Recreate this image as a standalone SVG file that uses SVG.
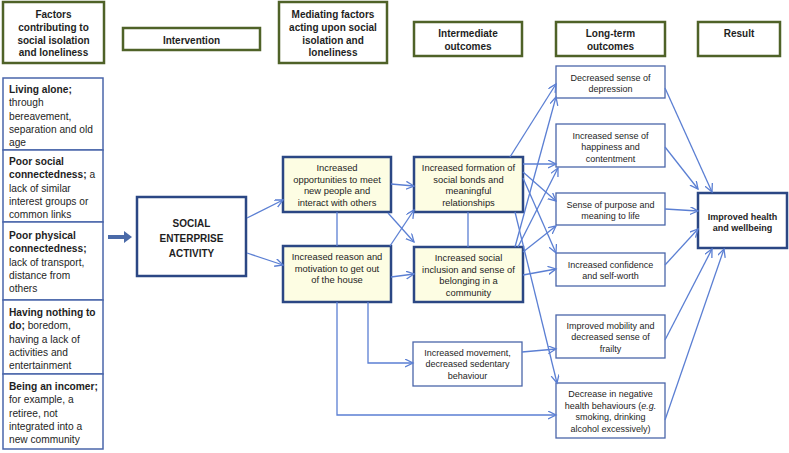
<svg xmlns="http://www.w3.org/2000/svg" width="789" height="453" viewBox="0 0 789 453">
<style>
text{font-family:"Liberation Sans",Arial,sans-serif;fill:#1e1e1e}
.hdr{fill:#fff;stroke:#4f6228;stroke-width:2.5}
.ht{font-size:10px;font-weight:bold;text-anchor:middle}
.lbox{fill:#fff;stroke:#4a66aa;stroke-width:1.5}
.lt{font-size:10.2px}
.b{font-weight:bold}
.thick{fill:#fff;stroke:#2b4784;stroke-width:2.5}
.med{fill:#fdfde3;stroke:#2b4784;stroke-width:2.5}
.thin{fill:#fff;stroke:#4a66aa;stroke-width:1.3}
.t9{font-size:9px;text-anchor:middle}
.t95{font-size:9.4px;text-anchor:middle}
.conn path{fill:none;stroke:#5b7fd3;stroke-width:1.3}
.conn .a{marker-end:url(#ah)}
</style>
<defs>
<marker id="ah" markerWidth="10" markerHeight="10" refX="8" refY="4" orient="auto" markerUnits="userSpaceOnUse">
<path d="M0,0 L8,4 L0,8" fill="none" stroke="#5b7fd3" stroke-width="1.3"/>
</marker>
</defs>
<rect width="789" height="453" fill="#fff"/>

<g id="h-factors"><rect class="hdr" x="3" y="2" width="101" height="61"/>
<text class="ht" x="53.5" y="18">Factors</text><text class="ht" x="53.5" y="31">contributing to</text><text class="ht" x="53.5" y="43.5">social isolation</text><text class="ht" x="53.5" y="56">and loneliness</text></g>
<g id="h-intervention"><rect class="hdr" x="123" y="28" width="137" height="22"/><text class="ht" x="191.5" y="43.5">Intervention</text></g>
<g id="h-mediating"><rect class="hdr" x="279" y="2" width="108" height="61"/>
<text class="ht" x="333" y="18">Mediating factors</text><text class="ht" x="333" y="31">acting upon social</text><text class="ht" x="333" y="43.5">isolation and</text><text class="ht" x="333" y="56">loneliness</text></g>
<g id="h-intermediate"><rect class="hdr" x="414" y="22" width="108" height="34"/><text class="ht" x="468" y="36.5">Intermediate</text><text class="ht" x="468" y="49.5">outcomes</text></g>
<g id="h-longterm"><rect class="hdr" x="556" y="22" width="109" height="34"/><text class="ht" x="610.5" y="36.5">Long-term</text><text class="ht" x="610.5" y="49.5">outcomes</text></g>
<g id="h-result"><rect class="hdr" x="698" y="22" width="82" height="34"/><text class="ht" x="739" y="36.5">Result</text></g>

<g id="f-living"><rect class="lbox" x="3" y="78" width="100" height="72"/>
<text class="lt" x="9"><tspan class="b" x="9" y="93">Living alone;</tspan><tspan x="9" y="106.3">through</tspan><tspan x="9" y="119.6">bereavement,</tspan><tspan x="9" y="133">separation and old</tspan><tspan x="9" y="146.2">age</tspan></text></g>
<g id="f-social"><rect class="lbox" x="3" y="150" width="100" height="72"/>
<text class="lt" x="9"><tspan class="b" x="9" y="165">Poor social</tspan><tspan class="b" x="9" y="178.3">connectedness;</tspan><tspan> a</tspan><tspan x="9" y="191.6">lack of similar</tspan><tspan x="9" y="205">interest groups or</tspan><tspan x="9" y="218.2">common links</tspan></text></g>
<g id="f-physical"><rect class="lbox" x="3" y="222" width="100" height="78"/>
<text class="lt" x="9"><tspan class="b" x="9" y="239">Poor physical</tspan><tspan class="b" x="9" y="252.3">connectedness;</tspan><tspan x="9" y="265.6">lack of transport,</tspan><tspan x="9" y="279">distance from</tspan><tspan x="9" y="292.2">others</tspan></text></g>
<g id="f-nothing"><rect class="lbox" x="3" y="300" width="100" height="74"/>
<text class="lt" x="9"><tspan class="b" x="9" y="316">Having nothing to</tspan><tspan class="b" x="9" y="329.3">do;</tspan><tspan> boredom,</tspan><tspan x="9" y="342.6">having a lack of</tspan><tspan x="9" y="356">activities and</tspan><tspan x="9" y="369.2">entertainment</tspan></text></g>
<g id="f-incomer"><rect class="lbox" x="3" y="374" width="100" height="75"/>
<text class="lt" x="9"><tspan class="b" x="9" y="390">Being an incomer;</tspan><tspan x="9" y="403.3">for example, a</tspan><tspan x="9" y="416.6">retiree, not</tspan><tspan x="9" y="430">integrated into a</tspan><tspan x="9" y="443.2">new community</tspan></text></g>

<g id="big-arrow"><path d="M108,235 L124,235 L124,231 L132,237 L124,243 L124,239 L108,239 Z" fill="#4a6aa8"/></g>

<g id="sea"><rect class="thick" x="137" y="197" width="109" height="79"/>
<text class="t9 b" style="font-size:10px" x="191.5" y="227">SOCIAL</text><text class="t9 b" style="font-size:10px" x="191.5" y="241.5">ENTERPRISE</text><text class="t9 b" style="font-size:10px" x="191.5" y="256.5">ACTIVITY</text></g>

<g id="m-opp"><rect class="med" x="283" y="157" width="108" height="55"/>
<text class="t95" x="337" y="171">Increased</text><text class="t95" x="337" y="182.5">opportunities to meet</text><text class="t95" x="337" y="194">new people and</text><text class="t95" x="337" y="205.5">interact with others</text></g>
<g id="m-reason"><rect class="med" x="283" y="246" width="108" height="56"/>
<text class="t95" x="337" y="260">Increased reason and</text><text class="t95" x="337" y="271.5">motivation to get out</text><text class="t95" x="337" y="283">of the house</text></g>

<g id="i-formation"><rect class="med" x="414" y="157" width="109" height="55"/>
<text class="t95" x="468.5" y="171">Increased formation of</text><text class="t95" x="468.5" y="182.5">social bonds and</text><text class="t95" x="468.5" y="194">meaningful</text><text class="t95" x="468.5" y="205.5">relationships</text></g>
<g id="i-inclusion"><rect class="med" x="414" y="247" width="109" height="55"/>
<text class="t95" x="468.5" y="261">Increased social</text><text class="t95" x="468.5" y="272.5">inclusion and sense of</text><text class="t95" x="468.5" y="284">belonging in a</text><text class="t95" x="468.5" y="295.5">community</text></g>
<g id="i-movement"><rect class="thin" x="413" y="342" width="109" height="44"/>
<text class="t9" x="467.5" y="355.5">Increased movement,</text><text class="t9" x="467.5" y="367">decreased sedentary</text><text class="t9" x="467.5" y="378.5">behaviour</text></g>

<g id="l-depression"><rect class="thin" x="556" y="66" width="109" height="32"/>
<text class="t9" x="610.5" y="80.5">Decreased sense of</text><text class="t9" x="610.5" y="92">depression</text></g>
<g id="l-happiness"><rect class="thin" x="556" y="124" width="109" height="43"/>
<text class="t9" x="610.5" y="138.5">Increased sense of</text><text class="t9" x="610.5" y="150">happiness and</text><text class="t9" x="610.5" y="161.5">contentment</text></g>
<g id="l-purpose"><rect class="thin" x="556" y="193" width="109" height="32"/>
<text class="t9" x="610.5" y="207.5">Sense of purpose and</text><text class="t9" x="610.5" y="219">meaning to life</text></g>
<g id="l-confidence"><rect class="thin" x="556" y="253" width="109" height="33"/>
<text class="t9" x="610.5" y="267.5">Increased confidence</text><text class="t9" x="610.5" y="279">and self-worth</text></g>
<g id="l-mobility"><rect class="thin" x="556" y="315" width="109" height="43"/>
<text class="t9" x="610.5" y="328.5">Improved mobility and</text><text class="t9" x="610.5" y="340">decreased sense of</text><text class="t9" x="610.5" y="351.5">frailty</text></g>
<g id="l-negative"><rect class="thin" x="556" y="383" width="109" height="55"/>
<text class="t9" x="610.5" y="397">Decrease in negative</text><text class="t9" x="610.5" y="408.5">health behaviours (<tspan font-style="italic">e.g.</tspan></text><text class="t9" x="610.5" y="420">smoking, drinking</text><text class="t9" x="610.5" y="431.5">alcohol excessively)</text></g>

<g id="r-health"><rect class="thick" x="698" y="193" width="89" height="55"/>
<text class="t9 b" x="742.5" y="219.5">Improved health</text><text class="t9 b" x="742.5" y="231">and wellbeing</text></g>

<g class="conn" id="connectors">
<path class="a" d="M247,218 L283,200"/>
<path class="a" d="M247,253 L283,265"/>
<path d="M337,212 L337,246"/>
<path class="a" d="M391,184 L414,186"/>
<path class="a" d="M388,213 L414,242"/>
<path class="a" d="M390,246 L414,210"/>
<path class="a" d="M391,277 L414,274"/>
<path d="M468,212 L468,247"/>
<path class="a" d="M337,302 L337,415 L556,415"/>
<path class="a" d="M368,302 L368,363 L413,363"/>
<path class="a" d="M522,352 L556,349"/>
<path class="a" d="M515,212 L557,383"/>
<path class="a" d="M510,157 L556,84"/>
<path class="a" d="M523,164 L556,164"/>
<path class="a" d="M523,172 L556,201"/>
<path class="a" d="M523,178 L556,253"/>
<path class="a" d="M515,247 L556,97"/>
<path class="a" d="M518,247 L558,168"/>
<path class="a" d="M523,252 L556,226"/>
<path class="a" d="M523,275 L556,269"/>
<path class="a" d="M665,88 L712,192"/>
<path class="a" d="M665,147 L698,189"/>
<path class="a" d="M665,209 L698,211"/>
<path class="a" d="M665,265 L698,229"/>
<path class="a" d="M665,340 L712,249"/>
<path class="a" d="M665,420 L724,249"/>
</g>
</svg>
